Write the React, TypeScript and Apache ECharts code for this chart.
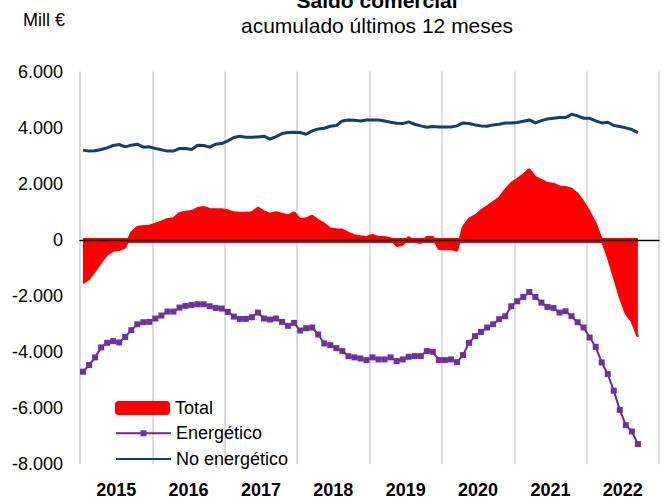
import React, { useEffect, useRef } from "react";
import * as echarts from "echarts";

const FONT = '"Liberation Sans", Arial, sans-serif';

const years = ["2015", "2016", "2017", "2018", "2019", "2020", "2021", "2022"];
const monthNames = ["01", "02", "03", "04", "05", "06", "07", "08", "09", "10", "11", "12"];
const months = years.flatMap((y) => monthNames.map((m) => `${y}-${m}`));

const yTicks = [-8000, -6000, -4000, -2000, 0, 2000, 4000, 6000];

const total = [
  -1541, -1386, -1091, -795, -522, -380, -356, -261, 250, 449, 484, 496,
  567, 638, 733, 756, 946, 993, 1017, 1124, 1160, 1089, 1077, 1077,
  1041, 970, 958, 958, 970, 1136, 1005, 922, 970, 922, 863, 970,
  733, 756, 851, 685, 567, 390, 366, 354, 236, 154, 118, 95,
  166, 95, 95, 50, -213, -166, 95, -71, -107, 95, 95, -320,
  -332, -320, -380, 449, 745, 863, 1041, 1183, 1337, 1491, 1776, 2013,
  2155, 2321, 2510, 2226, 2131, 2013, 1989, 1895, 1871, 1812, 1634, 1337,
  982, 567, 0, -594, -1305, -2027, -2618, -2903, -3460,
];

const energetico = [
  -4703, -4465, -4192, -3837, -3673, -3613, -3660, -3460, -3222, -3009, -2938, -2926,
  -2807, -2700, -2558, -2558, -2416, -2357, -2322, -2298, -2298, -2369, -2428, -2452,
  -2570, -2736, -2819, -2819, -2760, -2594, -2807, -2843, -2807, -2926, -3068, -2962,
  -3234, -3151, -3127, -3376, -3696, -3755, -3862, -3968, -4150, -4192, -4230, -4289,
  -4192, -4265, -4265, -4192, -4324, -4265, -4170, -4146, -4146, -3968, -3992, -4289,
  -4289, -4265, -4360, -4110, -3673, -3436, -3282, -3127, -3009, -2831, -2724, -2369,
  -2192, -2038, -1861, -2038, -2239, -2393, -2428, -2594, -2547, -2724, -2938, -3127,
  -3483, -3815, -4372, -4785, -5378, -6064, -6608, -6833, -7283,
];

const noEnergetico = [
  3197, 3162, 3174, 3219, 3279, 3361, 3397, 3314, 3373, 3410, 3303, 3314,
  3255, 3208, 3162, 3162, 3255, 3255, 3219, 3373, 3361, 3303, 3410, 3433,
  3527, 3645, 3693, 3657, 3657, 3669, 3693, 3587, 3681, 3788, 3823, 3835,
  3823, 3764, 3882, 3954, 3977, 4049, 4073, 4238, 4274, 4262, 4238, 4274,
  4274, 4274, 4238, 4191, 4155, 4143, 4203, 4120, 4061, 4013, 4037, 4025,
  4025, 4025, 4061, 4167, 4143, 4096, 4061, 4049, 4096, 4120, 4167, 4167,
  4179, 4226, 4274, 4167, 4250, 4309, 4333, 4357, 4357, 4476, 4417, 4333,
  4333, 4238, 4167, 4191, 4073, 4037, 3990, 3930, 3823,
];

function fmt(v: number): string {
  const s = Math.abs(v).toString().replace(/\B(?=(\d{3})+(?!\d))/g, ".");
  return (v < 0 ? "-" : "") + s;
}

export default function App() {
  const ref = useRef<HTMLDivElement>(null);
  useEffect(() => {
    if (!ref.current) return;
    const chart = echarts.init(ref.current, undefined, { renderer: "svg" });
    const legendText = { fontSize: 18, color: "#000", fontFamily: FONT, lineHeight: 18 };
    const option: any = {
      animation: false,
      backgroundColor: "#ffffff",
      grid: { left: 80, right: 7, top: 71.5, bottom: 34.8, containLabel: false },
      graphic: [
        {
          type: "text",
          x: 377,
          y: 0,
          style: { text: "Saldo comercial", font: `bold 21px ${FONT}`, fill: "#000", align: "center", verticalAlign: "middle" },
        },
        {
          type: "text",
          x: 377,
          y: 25.5,
          style: { text: "acumulado últimos 12 meses", font: `21px ${FONT}`, fill: "#000", align: "center", verticalAlign: "middle" },
        },
        {
          type: "text",
          x: 23,
          y: 19.7,
          style: { text: "Mill €", font: `18px ${FONT}`, fill: "#000", align: "left", verticalAlign: "middle" },
        },
      ],
      legend: [
        {
          orient: "vertical",
          left: 115,
          top: 399,
          padding: 0,
          itemWidth: 55,
          itemHeight: 14,
          textStyle: legendText,
          data: [{ name: "Total", icon: "roundRect" }],
        },
        {
          orient: "vertical",
          left: 115,
          top: 424.3,
          padding: 0,
          itemWidth: 55,
          itemHeight: 7.5,
          itemGap: 7.7,
          textStyle: legendText,
          data: [{ name: "Energético" }, { name: "No energético", itemStyle: { opacity: 0 } }],
        },
      ],
      xAxis: [
        {
          type: "category",
          data: months,
          boundaryGap: true,
          z: 5,
          axisLine: { show: true, onZero: true, lineStyle: { color: "#000", width: 1.3 } },
          axisTick: { show: false },
          axisLabel: { show: false },
          splitLine: { show: false },
        },
        {
          type: "category",
          data: years,
          boundaryGap: true,
          position: "bottom",
          axisLine: { show: false, onZero: false },
          axisTick: { show: false },
          axisLabel: { margin: 16.5, fontSize: 18, fontWeight: "bold", color: "#000", fontFamily: FONT },
          splitLine: { show: true, interval: 0, lineStyle: { color: "#D0D0D0", width: 1.5 } },
        },
      ],
      yAxis: {
        type: "value",
        min: yTicks[0],
        max: yTicks[yTicks.length - 1],
        interval: 2000,
        axisLine: { show: false },
        axisTick: { show: false },
        splitLine: { show: false },
        axisLabel: { formatter: fmt, fontSize: 18, color: "#000", fontFamily: FONT, margin: 17 },
      },
      series: [
        {
          name: "Total",
          type: "line",
          xAxisIndex: 0,
          data: total,
          symbol: "none",
          z: 1,
          itemStyle: { color: "#FF0000" },
          lineStyle: { color: "#FF0000", width: 2.5 },
          areaStyle: { color: "#FF0000", opacity: 1 },
          markLine: {
            silent: true,
            symbol: ["none", "none"],
            label: { show: false },
            lineStyle: { color: "#FF0000", width: 5, type: "solid" },
            data: [[{ coord: [months[0], 0] }, { coord: [months[total.length - 1], 0] }]],
          },
        },
        {
          name: "Energético",
          type: "line",
          xAxisIndex: 0,
          data: energetico,
          symbol: "rect",
          symbolSize: 6,
          showAllSymbol: true,
          z: 3,
          itemStyle: { color: "#7030A0" },
          lineStyle: { color: "#7F1F8F", width: 2 },
        },
        {
          name: "No energético",
          type: "line",
          xAxisIndex: 0,
          data: noEnergetico,
          symbol: "none",
          z: 3,
          itemStyle: { color: "#123F73" },
          lineStyle: { color: "#123F73", width: 3 },
        },
      ],
    };
    chart.setOption(option);
    return () => chart.dispose();
  }, []);
  return <div ref={ref} style={{ position: "fixed", left: 0, top: 0, width: 666, height: 499 }} />;
}
